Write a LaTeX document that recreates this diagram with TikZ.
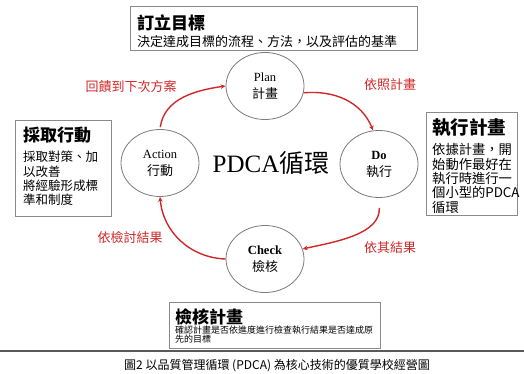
\documentclass[tikz,border=0pt]{standalone}
\usepackage{fontspec}
\setmainfont{Liberation Serif}
\newfontfamily\cjk{Noto Sans CJK TC}
\usetikzlibrary{shapes.geometric,arrows.meta}
\definecolor{redc}{HTML}{D02828}
\definecolor{boxgray}{HTML}{8A8A8A}
\definecolor{elgray}{HTML}{7A7A7A}
\begin{document}
\begin{tikzpicture}[x=1pt,y=-1pt,
  phase/.style={ellipse, draw=elgray, line width=0.8pt, inner sep=0pt,
    minimum width=78pt, minimum height=67pt, align=center,
    font=\fontsize{12.5}{17}\selectfont},
  box/.style={draw=boxgray, line width=0.9pt, anchor=north west, inner sep=0pt},
  ttl/.style={anchor=base west, inner sep=0pt, font=\cjk\bfseries\fontsize{17}{17}\selectfont},
  txt/.style={anchor=base west, inner sep=0pt, font=\cjk\fontsize{12.5}{12.5}\selectfont},
  rtxt/.style={txt, font=\cjk\fontsize{13.3}{13.3}\selectfont},
  stxt/.style={txt, font=\cjk\fontsize{9}{9}\selectfont},
  lab/.style={text=redc, inner sep=0pt, font=\cjk\fontsize{13}{13}\selectfont},
  flow/.style={draw=redc, line width=1.4pt, -{Stealth[length=5pt,width=4.5pt]}},
]
\useasboundingbox (0,0) rectangle (524,374);

% phase ellipses
\node[phase] (P) at (265,86) {Plan\\{\cjk\fontsize{13}{13}\selectfont 計畫}};
\node[phase] (A) at (160,163) {Action\\{\cjk\fontsize{13}{13}\selectfont 行動}};
\node[phase] (D) at (379,164) {\textbf{Do}\\{\cjk\fontsize{13}{13}\selectfont 執行}};
\node[phase] (C) at (265,259) {\textbf{Check}\\{\cjk\fontsize{13}{13}\selectfont 檢核}};

% centre title
\node[font=\fontsize{25}{25}\selectfont, inner sep=0pt] (title) at (271,163) {PDCA{\cjk 循環}};

% top box
\node[box, minimum width=287pt, minimum height=44pt] (goal) at (130,6) {};
\node[ttl] (goalT) at (137,29.5) {訂立目標};
\node[txt, font=\cjk\fontsize{13}{13}\selectfont] (goalL) at (137,47) {決定達成目標的流程、方法，以及評估的基準};

% left box
\node[box, minimum width=96pt, minimum height=96pt] (act) at (15,120) {};
\node[ttl] (actT) at (23,141.5) {採取行動};
\node[txt] (actL1) at (23,161.5) {採取對策、加};
\node[txt] (actL2) at (23,176) {以改善};
\node[txt] (actL3) at (23,190) {將經驗形成標};
\node[txt] (actL4) at (23,204.5) {準和制度};

% right box
\node[box, minimum width=91pt, minimum height=103pt] (exe) at (426,112) {};
\node[ttl, font=\cjk\bfseries\fontsize{18.5}{18.5}\selectfont] (exeT) at (432,135) {執行計畫};
\node[rtxt] (exeL1) at (432,155) {依據計畫，開};
\node[rtxt] (exeL2) at (432,169.3) {始動作最好在};
\node[rtxt] (exeL3) at (432,183.6) {執行時進行一};
\node[rtxt] (exeL4) at (432,197.9) {個小型的PDCA};
\node[rtxt] (exeL5) at (432,212.2) {循環};

% bottom box
\node[box, minimum width=211pt, minimum height=46pt] (chk) at (169,302) {};
\node[ttl] (chkT) at (175,323.5) {檢核計畫};
\node[stxt] (chkL1) at (175,333) {確認計畫是否依進度進行檢查執行結果是否達成原};
\node[stxt] (chkL2) at (175,342.5) {先的目標};

% rule and caption
\coordinate (rl) at (0,351);
\coordinate (rr) at (524,351);
\draw[line width=1.2pt, black!65] (rl) -- (rr);
\node[font=\cjk\fontsize{12}{12}\selectfont, inner sep=0pt, anchor=base] (cap) at (277,369.5) {圖2\ 以品質管理循環\ (PDCA)\ 為核心技術的優質學校經營圖};

% cycle arrows
\draw[flow, shorten <=2pt] (A.north) to[out=82,in=188] (P.west);
\draw[flow] (P.-10) to[out=5,in=112] (D.100);
\draw[flow, shorten <=10pt] (D.south) to[out=-88,in=12] (C.15);
\draw[flow] (C.west) to[out=178,in=-85] (A.south);

% arrow labels
\node[lab] (l1) at (131,87) {回饋到下次方案};
\node[lab] (l2) at (390,85) {依照計畫};
\node[lab] (l3) at (390,248) {依其結果};
\node[lab] (l4) at (130,238) {依檢討結果};
\end{tikzpicture}
\end{document}
